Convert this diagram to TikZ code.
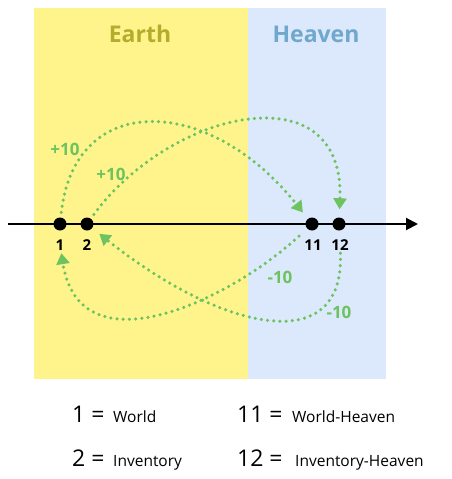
\documentclass[tikz,border=0pt]{standalone}
\usepackage{fontspec}
\setmainfont{Open Sans}
\usetikzlibrary{arrows.meta}
\definecolor{earthbg}{HTML}{FFF48C}
\definecolor{heavenbg}{HTML}{DCE8FB}
\definecolor{earthtxt}{HTML}{B5AC2E}
\definecolor{heaventxt}{HTML}{6FA8CC}
\definecolor{flowgreen}{HTML}{6CC35F}
\begin{document}
\begin{tikzpicture}[x=1pt,y=-1pt,
  dotnode/.style={circle,fill=black,minimum size=13pt,inner sep=0pt},
  dotlabel/.style={inner sep=0pt,anchor=base,font=\fontsize{15}{17}\selectfont\bfseries},
  region/.style={inner sep=0pt,anchor=base,font=\fontsize{23}{26}\selectfont\bfseries},
  flowlabel/.style={inner sep=0pt,anchor=base,text=flowgreen,font=\fontsize{17}{20}\selectfont\bfseries},
  legnum/.style={inner sep=0pt,anchor=base west,font=\fontsize{23}{26}\selectfont},
  legtxt/.style={inner sep=0pt,anchor=base west,font=\fontsize{15.5}{18}\selectfont},
  flow/.style={draw=flowgreen,line width=3.5pt,dash pattern=on 0pt off 6.2pt,line cap=round,
    -{Triangle[length=11pt,width=13pt]},shorten >=8pt,shorten <=5pt},
  axis/.style={draw=black,line width=2pt,-{Triangle[length=12pt,width=12pt]}}
]
\useasboundingbox (0,0) rectangle (451,479);
\fill[earthbg] (34,8) rectangle (248,379);
\fill[heavenbg] (248,8) rectangle (386,379);
\node[region,text=earthtxt] (earth) at (140,42) {Earth};
\node[region,text=heaventxt] (heaven) at (316,42) {Heaven};

\coordinate (axL) at (8,224);
\coordinate (axR) at (418,224);
\draw[axis] (axL) -- (axR);

\node[dotnode] (n1) at (60,224) {};
\node[dotnode] (n2) at (87,224) {};
\node[dotnode] (n11) at (312,224) {};
\node[dotnode] (n12) at (339,224) {};
\node[dotlabel] (l1) at (60,250) {1};
\node[dotlabel] (l2) at (87,250) {2};
\node[dotlabel] (l11) at (313,250) {11};
\node[dotlabel] (l12) at (340,250) {12};

\draw[flow] (n1) .. controls (75,90) and (210,95) .. (n11);
\draw[flow] (n2) .. controls (170,110) and (345,70) .. (n12);
\draw[flow,shorten <=11pt,shorten >=3pt] (n11) .. controls (230,300) and (80,372) .. (l1);
\draw[flow,shorten <=3pt,shorten >=9pt] (l12) .. controls (345,360) and (220,330) .. (n2);

\node[flowlabel] (p1) at (65,155) {+10};
\node[flowlabel] (p2) at (111,180) {+10};
\node[flowlabel] (m1) at (280,283) {-10};
\node[flowlabel] (m2) at (339,318) {-10};

\node[legnum] (k1) at (72,422) {1 =};
\node[legtxt] (t1) at (113,422) {World};
\node[legnum] (k2) at (72,466) {2 =};
\node[legtxt] (t2) at (113,466) {Inventory};
\node[legnum] (k11) at (237,422) {11 =};
\node[legtxt] (t11) at (292,422) {World-Heaven};
\node[legnum] (k12) at (237,466) {12 =};
\node[legtxt] (t12) at (295,466) {Inventory-Heaven};
\end{tikzpicture}
\end{document}
